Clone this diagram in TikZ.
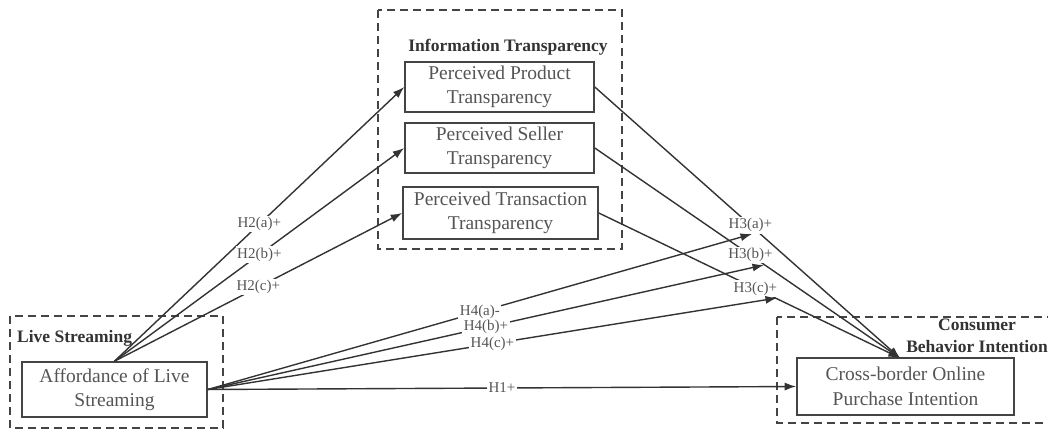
\documentclass[tikz,border=0pt]{standalone}
\usepackage{fontspec}
\setmainfont{Liberation Serif}
\usetikzlibrary{arrows.meta}
\definecolor{ln}{HTML}{333333}
\definecolor{tx}{HTML}{555555}
\definecolor{bd}{HTML}{444444}
\begin{document}
\begin{tikzpicture}[x=1pt,y=-1pt,
  varbox/.style={draw=bd,line width=1.6pt,inner sep=0pt,align=center,text=tx,
    font=\fontsize{19.5}{24.5}\selectfont},
  grpbox/.style={draw=bd,line width=1.6pt,dash pattern=on 8pt off 5pt},
  grplbl/.style={text=ln,font=\bfseries\fontsize{17.5}{22}\selectfont,inner sep=0pt,align=center},
  arr/.style={draw=ln,line width=1.4pt,-{Latex[length=11.5pt,width=8pt]}},
  lbl/.style={fill=white,text=tx,inner sep=1.5pt,font=\fontsize{15}{17}\selectfont}]
\clip (0,0) rectangle (1048,431);
\fill[white] (0,0) rectangle (1048,431);
% group boxes
\draw[grpbox] (378,10) rectangle (622,249);
\draw[grpbox] (10,316) rectangle (223,428);
\draw[grpbox] (777,317) rectangle (1070,423);
\node[grplbl] (itl) at (508,47) {Information Transparency};
\node[grplbl,anchor=west] (lsl) at (17,338) {Live Streaming};
\node[grplbl] (cbl) at (977,336) {Consumer\\Behavior Intention};
% variable boxes
\node[varbox,minimum width=189pt,minimum height=50pt] (pp) at (499.5,87) {Perceived Product\\Transparency};
\node[varbox,minimum width=189pt,minimum height=50pt] (ps) at (499.5,148) {Perceived Seller\\Transparency};
\node[varbox,minimum width=195pt,minimum height=52pt] (pt) at (500.5,213) {Perceived Transaction\\Transparency};
\node[varbox,minimum width=185pt,minimum height=55pt] (af) at (114.5,389.5) {Affordance of Live\\Streaming};
\node[varbox,minimum width=217pt,minimum height=57pt] (cb) at (905.5,386.5) {Cross-border Online\\Purchase Intention};
\coordinate (cbt) at (900,358);
% H2
\draw[arr] (af.north) -- node[lbl,pos=0.5] {H2(a)+} (pp.west);
\draw[arr] (af.north) -- node[lbl,pos=0.5] {H2(b)+} (ps.west);
\draw[arr] (af.north) -- node[lbl,pos=0.5] {H2(c)+} (pt.west);
% H3
\draw[arr] (pp.east) -- node[lbl,pos=0.51] (h3a) {H3(a)+} (cbt);
\draw[arr] (ps.east) -- node[lbl,pos=0.51] (h3b) {H3(b)+} (cbt);
\draw[arr] (pt.east) -- node[lbl,pos=0.52] (h3c) {H3(c)+} (cbt);
% H4
\coordinate (e4a) at (752,234);
\coordinate (e4b) at (764,265);
\coordinate (e4c) at (777,298);
\draw[arr] (af.east) -- node[lbl,pos=0.5] {H4(a)-} (e4a);
\draw[arr] (af.east) -- node[lbl,pos=0.5] {H4(b)+} (e4b);
\draw[arr] (af.east) -- node[lbl,pos=0.5] {H4(c)+} (e4c);
% H1
\draw[arr] (af.east) -- node[lbl,pos=0.5] {H1+} (cb.west);
\end{tikzpicture}
\end{document}
